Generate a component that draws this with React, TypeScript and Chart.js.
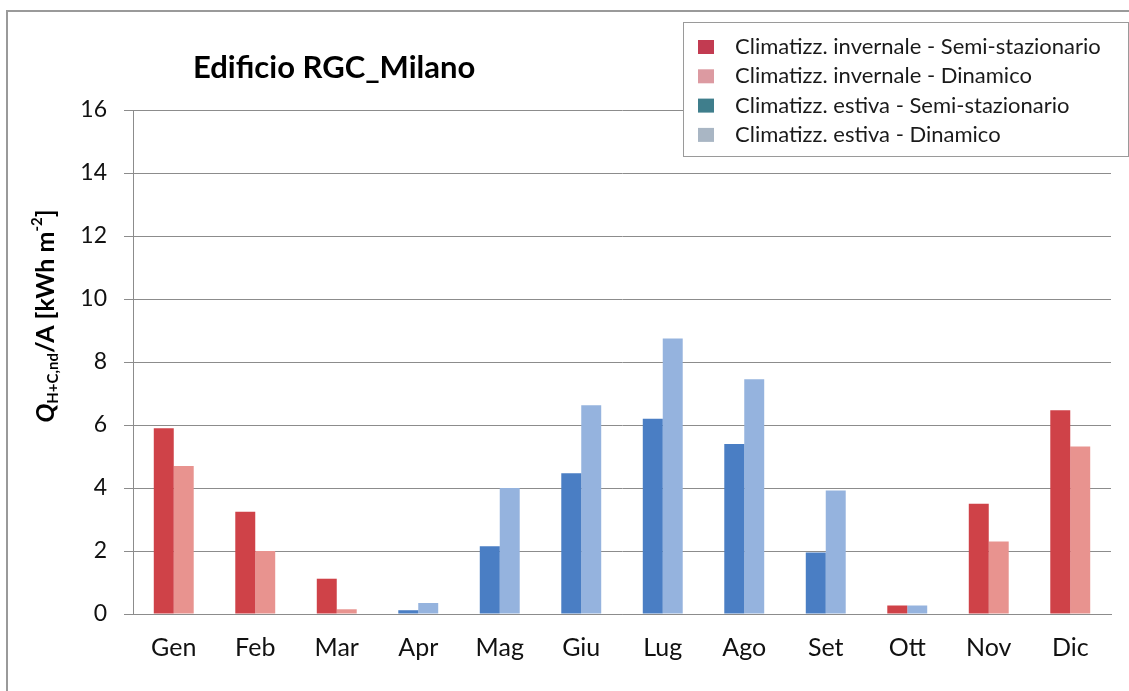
import React, { useEffect, useRef } from "react";
import { Chart, registerables } from "chart.js";

Chart.register(...registerables);

const TITLE = "Edificio RGC_Milano";
const months = ["Gen", "Feb", "Mar", "Apr", "Mag", "Giu", "Lug", "Ago", "Set", "Ott", "Nov", "Dic"];
const heatSemi = [5.9, 3.25, 1.12, 0, 0, 0, 0, 0, 0, 0.27, 3.5, 6.47];
const heatDin = [4.7, 2.0, 0.15, 0, 0, 0, 0, 0, 0, 0, 2.3, 5.32];
const coolSemi = [0, 0, 0, 0.12, 2.15, 4.47, 6.2, 5.4, 1.95, 0, 0, 0];
const coolDin = [0, 0, 0, 0.35, 4.0, 6.63, 8.75, 7.45, 3.92, 0.27, 0, 0];
const seriesLabels = [
  "Climatizz. invernale - Semi-stazionario",
  "Climatizz. invernale - Dinamico",
  "Climatizz. estiva - Semi-stazionario",
  "Climatizz. estiva - Dinamico",
];
const barColors = ["#CF4248", "#E8938F", "#4A7EC4", "#95B3DE"];
const legendColors = ["#C23B51", "#DC9AA1", "#3F7E8C", "#A9B6C4"];

const FONT = "Lato, 'Open Sans', sans-serif";
const GRID = "#8c8c8c";

const overlayPlugin = {
  id: "overlay",
  afterDraw(chart: any) {
    const ctx = chart.ctx as CanvasRenderingContext2D;
    ctx.save();
    // Title
    ctx.fillStyle = "#000";
    ctx.font = `bold 31px ${FONT}`;
    ctx.textBaseline = "middle";
    ctx.textAlign = "left";
    ctx.fillText(TITLE, 193, 68);

    // Y axis title with sub/superscript
    const pieces = [
      { t: "Q", f: `italic bold 25px ${FONT}`, dy: 0 },
      { t: "H+C,nd", f: `bold 15px ${FONT}`, dy: 7 },
      { t: "/A [kWh m", f: `bold 25px ${FONT}`, dy: 0 },
      { t: "-2", f: `bold 15px ${FONT}`, dy: -9 },
      { t: "]", f: `bold 25px ${FONT}`, dy: 0 },
    ];
    let total = 0;
    const widths = pieces.map((p) => {
      ctx.font = p.f;
      const w = ctx.measureText(p.t).width;
      total += w;
      return w;
    });
    ctx.translate(46, 316);
    ctx.rotate(-Math.PI / 2);
    let x = -total / 2;
    pieces.forEach((p, i) => {
      ctx.font = p.f;
      ctx.fillText(p.t, x, p.dy);
      x += widths[i];
    });
    ctx.setTransform(1, 0, 0, 1, 0, 0);

    // Legend box
    const bx = 683, by = 22, bw = 446, bh = 135;
    ctx.fillStyle = "#fff";
    ctx.fillRect(bx, by, bw, bh);
    ctx.strokeStyle = "#9a9a9a";
    ctx.lineWidth = 1;
    ctx.strokeRect(bx + 0.5, by + 0.5, bw - 1, bh - 1);
    ctx.font = `22px ${FONT}`;
    ctx.textBaseline = "middle";
    chart.data.datasets.forEach((ds: any, i: number) => {
      const cy = 47 + i * 29.3;
      ctx.fillStyle = legendColors[i];
      ctx.fillRect(698, cy - 7, 16, 14);
      ctx.fillStyle = "#1a1a1a";
      ctx.fillText(ds.label, 735, cy);
    });
    ctx.restore();
  },
};

export default function App() {
  const ref = useRef<HTMLCanvasElement | null>(null);
  useEffect(() => {
    if (!ref.current) return;
    const values = [heatSemi, heatDin, coolSemi, coolDin];
    const stacks = ["semi", "din", "semi", "din"];
    const chart = new Chart(ref.current, {
      type: "bar",
      data: {
        labels: months,
        datasets: values.map((v, i) => ({
          label: seriesLabels[i],
          data: v,
          stack: stacks[i],
          backgroundColor: barColors[i],
          borderWidth: 0,
          categoryPercentage: 0.49,
          barPercentage: 1,
        })),
      },
      options: {
        responsive: false,
        animation: false,
        devicePixelRatio: 1,
        layout: { padding: { top: 110, right: 18, left: 0, bottom: 0 } },
        plugins: {
          legend: { display: false },
          tooltip: { enabled: false },
          title: { display: false },
        },
        scales: {
          x: {
            stacked: true,
            grid: { display: false },
            border: { display: true, color: GRID, width: 1 },
            ticks: { color: "#111", font: { family: FONT, size: 25 }, padding: 11 },
            afterFit: (s: any) => {
              s.height = 77;
            },
          },
          y: {
            stacked: true,
            min: 0,
            max: 16,
            ticks: { stepSize: 2, color: "#111", font: { family: FONT, size: 23 }, padding: 17 },
            grid: { color: GRID, tickLength: 9, drawTicks: true },
            border: { display: true, color: GRID, width: 1 },
            afterFit: (s: any) => {
              s.width = 133;
            },
          },
        },
      },
      plugins: [overlayPlugin],
    });
    return () => chart.destroy();
  }, []);
  return (
    <div style={{ position: "absolute", left: 0, top: 0, width: 1129, height: 691, overflow: "hidden" }}>
      <div
        style={{
          position: "absolute",
          left: 6,
          top: 10,
          width: 1140,
          height: 700,
          borderLeft: "2px solid #9a9a9a",
          borderTop: "2px solid #9a9a9a",
        }}
      />
      <canvas ref={ref} width={1129} height={691} style={{ position: "absolute", left: 0, top: 0, display: "block" }} />
    </div>
  );
}
